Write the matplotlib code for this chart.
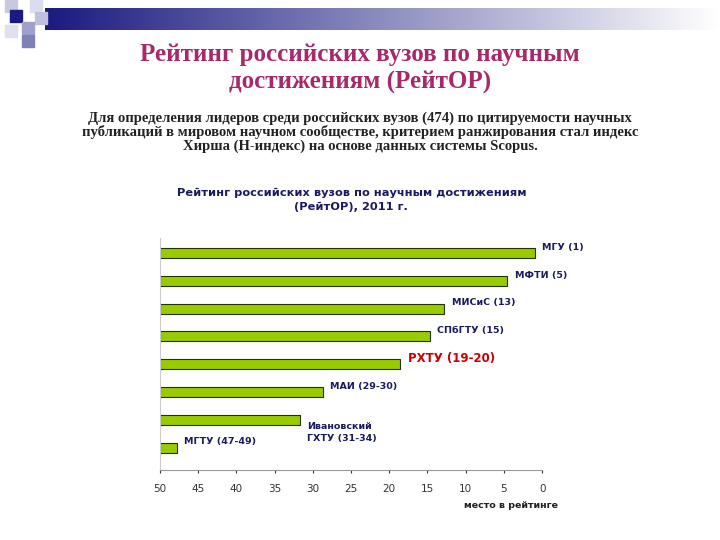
import matplotlib
matplotlib.use("Agg")
import matplotlib.pyplot as plt
from matplotlib.patches import Rectangle
from matplotlib.colors import LinearSegmentedColormap
import numpy as np

labels = ["МГУ (1)", "МФТИ (5)", "МИСиС (13)", "СПбГТУ (15)", "РХТУ (19-20)",
          "МАИ (29-30)", "Ивановский\nГХТУ (31-34)", "МГТУ (47-49)"]
ranks = [1.0, 4.6, 12.8, 14.7, 18.6, 28.7, 31.7, 47.8]
xticks = [50, 45, 40, 35, 30, 25, 20, 15, 10, 5, 0]

fig = plt.figure(figsize=(7.2, 5.4), dpi=100)
fig.patch.set_facecolor("white")

deco = fig.add_axes([0, 0, 1, 1], zorder=-1)
deco.set_xlim(0, 720); deco.set_ylim(540, 0); deco.axis("off")
grad = np.linspace(0, 1, 256)[None, :]
cm = LinearSegmentedColormap.from_list("g", ["#1a1a80", "#ffffff"])
deco.imshow(grad, cmap=cm, extent=(45, 720, 30, 8), aspect="auto")
for (x, y, c) in [(5, 0, "#c8c8e0"), (30, 0, "#dcdcf0"), (5, 25, "#e0e0f0"), (10, 10, "#1a1a80"),
                  (35, 12, "#c0c0dc"), (22, 22, "#a0a0cc"), (22, 35, "#8080b8")]:
    deco.add_patch(Rectangle((x, y), 12, 12, color=c))

fig.text(0.5, 0.873, "Рейтинг российских вузов по научным\nдостижениям (РейтОР)", ha="center", va="center",
         fontsize=18, fontweight="bold", color="#a8286a", family="Liberation Serif", linespacing=1.3)
fig.text(0.5, 0.755, "Для определения лидеров среди российских вузов (474) по цитируемости научных\n"
         "публикаций в мировом научном сообществе, критерием ранжирования стал индекс\n"
         "Хирша (Н-индекс) на основе данных системы Scopus.", ha="center", va="center",
         fontsize=10.5, fontweight="bold", color="#222222", family="Liberation Serif", linespacing=1.0)
fig.text(0.488, 0.63, "Рейтинг российских вузов по научным достижениям\n(РейтОР), 2011 г.", ha="center",
         va="center", fontsize=8.2, fontweight="bold", color="#1a1a60", linespacing=1.5)

ax = fig.add_axes([0.222, 0.13, 0.531, 0.43])
for i, r in enumerate(ranks):
    ax.barh(i, 50 - r, left=r, height=0.36, color="#99cc00", edgecolor="#223300", linewidth=0.8)
    red = "РХТУ" in labels[i]
    col = "#cc0000" if red else "#1a1a60"
    fs = 8.5 if red else 6.8
    dy = -0.2 if "\n" not in labels[i] else -0.45
    ax.text(r - 1.0, i + dy if "\n" not in labels[i] else i + 0.45, labels[i], ha="left", va="center",
            fontsize=fs, fontweight="bold", color=col, linespacing=1.5)
ax.set_xlim(50, 0)
ax.set_ylim(len(ranks) - 0.2, -0.55)
ax.set_xticks(xticks)
ax.set_xticklabels([str(t) for t in xticks], fontsize=7.5)
ax.set_yticks([])
for s in ["top", "right"]:
    ax.spines[s].set_visible(False)
ax.spines["left"].set_color("#cccccc")
ax.spines["bottom"].set_color("#999999")
ax.tick_params(axis="x", length=2, pad=8, colors="#333333")
fig.text(0.775, 0.06, "место в рейтинге", ha="right", fontsize=6.8, fontweight="bold", color="#222222")

fig.savefig("out.png", dpi=100)
